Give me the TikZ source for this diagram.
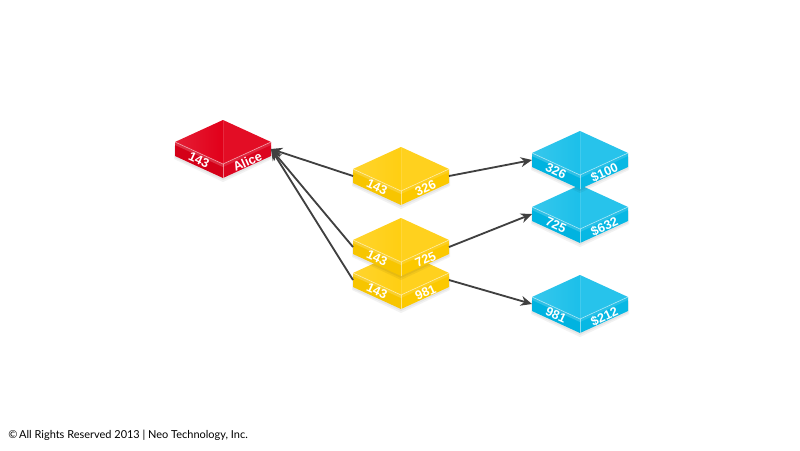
\documentclass[tikz,border=0pt]{standalone}
\usepackage{fontspec}
\setmainfont{Liberation Sans}
\newfontfamily\footfont{Lato}
\usetikzlibrary{arrows.meta}
\definecolor{redT}{HTML}{E2001A}\definecolor{redL}{HTML}{D40018}\definecolor{redR}{HTML}{DC0520}
\definecolor{yelT}{HTML}{FFCF12}\definecolor{yelL}{HTML}{F7C500}\definecolor{yelR}{HTML}{FCC900}
\definecolor{bluT}{HTML}{1CC0EA}\definecolor{bluL}{HTML}{00B3E0}\definecolor{bluR}{HTML}{08B8E4}
\definecolor{arrowgray}{HTML}{404040}
\tikzset{
  lab/.style={text=white,font=\bfseries\fontsize{9}{10}\selectfont,inner sep=0pt},
  conn/.style={draw=arrowgray,line width=1.3pt,-{Stealth[length=8pt,width=7pt]}},
  edgehl/.style={draw=white,opacity=0.5,line width=0.5pt}
}
\newcommand\slab[6]{%
 \begin{scope}[shift={(#2,#3)}]
   \fill[black,opacity=0.05] (-49,4) -- (0,27) -- (49,4) -- (49,17) -- (0,40) -- (-49,17) -- cycle;
   \fill[black,opacity=0.05] (-48,6) -- (0,29) -- (48,6) -- (48,16) -- (0,38) -- (-48,16) -- cycle;
   \fill[#4L] (-48,0) -- (0,22) -- (0,36) -- (-48,14) -- cycle;
   \fill[#4R] (0,22) -- (48,0) -- (48,14) -- (0,36) -- cycle;
   \fill[white,opacity=0.18] (-48,0) -- (0,22) -- (0,25) -- (-48,3) -- cycle;
   \fill[white,opacity=0.12] (0,22) -- (48,0) -- (48,3) -- (0,25) -- cycle;
   \fill[#4T] (-48,0) -- (0,-22) -- (48,0) -- (0,22) -- cycle;
   \shade[left color=white,right color=#4T,opacity=0.12] (-48,0) -- (0,-22) -- (0,22) -- cycle;
   \fill[white,opacity=0.05] (0,-22) -- (48,0) -- (0,22) -- cycle;
   \draw[edgehl] (-48,0) -- (0,22) -- (48,0);
   \draw[edgehl] (0,22) -- (0,36);
   \draw[white,opacity=0.12,line width=0.4pt] (0,-22) -- (0,22);
   \coordinate (#1-l) at (-48,7);
   \coordinate (#1-r) at (48,7);
   \node[lab,rotate=-24.6] (#1-a) at (-24,18) {#5};
   \node[lab,rotate=24.6] (#1-b) at (24.5,19.5) {#6};
 \end{scope}}
\begin{document}
\begin{tikzpicture}[x=0.025cm,y=-0.025cm]
\useasboundingbox (0,0) rectangle (800,450);
\fill[white] (0,0) rectangle (800,450);
\slab{alice}{223}{142}{red}{143}{Alice}
\slab{ya}{401}{169}{yel}{143}{326}
\slab{yc}{401}{273}{yel}{143}{981}
\slab{yb}{401}{240}{yel}{143}{725}
\slab{bb}{580}{207}{blu}{725}{\$632}
\slab{ba}{580}{153}{blu}{326}{\$100}
\slab{bc}{580}{297}{blu}{981}{\$212}
\draw[conn] (ya-l) -- (alice-r);
\draw[conn] (yb-l) -- (alice-r);
\draw[conn] (yc-l) -- (alice-r);
\draw[conn] (ya-r) -- (ba-l);
\draw[conn] (yb-r) -- (bb-l);
\draw[conn] (yc-r) -- (bc-l);
\node[anchor=west,inner sep=0pt,font=\footfont\fontsize{7.8}{9}\selectfont] (copy) at (8,435) {\textcopyright\,All Rights Reserved 2013 | Neo Technology, Inc.};
\end{tikzpicture}
\end{document}
